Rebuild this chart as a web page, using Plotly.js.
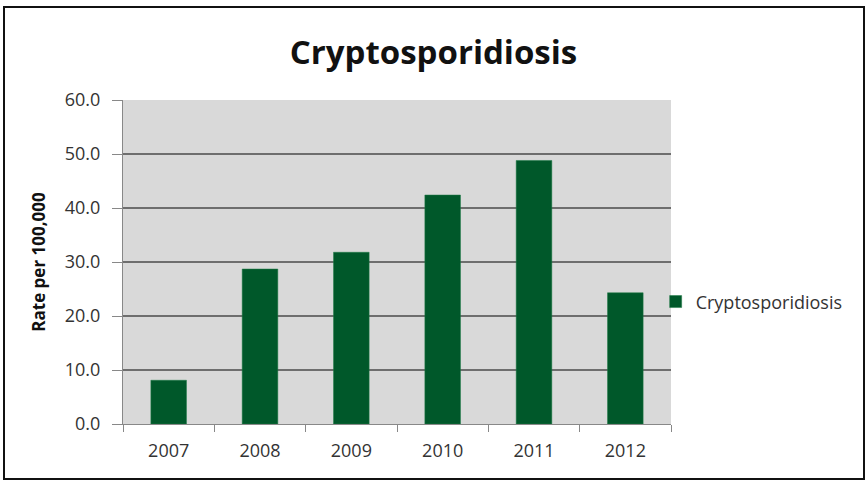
<!DOCTYPE html>
<html><head><meta charset="utf-8">
<script src="https://cdn.plot.ly/plotly-3.0.1.min.js"></script>
<style>
body{margin:0;padding:0;background:#fff;}
#wrap{position:relative;width:867px;height:482px;}
#chart{position:absolute;left:0;top:0;width:867px;height:482px;}
#frame{position:absolute;left:3px;top:6px;width:858px;height:470px;border:2px solid #111;pointer-events:none;}
</style></head>
<body><div id="wrap"><div id="chart"></div><div id="frame"></div></div>
<script>
const years = ["2007","2008","2009","2010","2011","2012"];
const rates = [8.1, 28.7, 31.8, 42.4, 48.8, 24.3];
const seriesName = "Cryptosporidiosis";
const yTicks = [0,10,20,30,40,50,60];

const font = "Open Sans, Carlito, Liberation Sans, sans-serif";
Plotly.newPlot('chart', [{
  type:'bar', x: years, y: rates, name: seriesName,
  marker:{color:'#00582a', line:{color:'#1d7a45', width:0.5}},
  showlegend:true
}], {
  width:867, height:482,
  margin:{l:123, r:196, t:100, b:58},
  paper_bgcolor:'#ffffff', plot_bgcolor:'#d9d9d9',
  bargap:0.61,
  title:{text:'<b>Cryptosporidiosis</b>', font:{family:font, size:33, color:'#111'},
         x:0.5, xref:'container', y:1-52/482, yref:'container', yanchor:'middle'},
  xaxis:{type:'category', showgrid:false, showline:true, linecolor:'#888', linewidth:1,
         ticks:'outside', tickson:'boundaries', ticklen:7, tickcolor:'#888', ticklabelstandoff:10,
         tickfont:{family:font, size:18, color:'#333'}, zeroline:false},
  yaxis:{range:[0,60], tickvals:yTicks, tickformat:'.1f', showgrid:true, gridcolor:'#6e6e6e', gridwidth:2,
         showline:true, linecolor:'#888', linewidth:1, ticks:'outside', ticklen:10, tickcolor:'#888', ticklabelstandoff:8,
         tickfont:{family:font, size:18, color:'#333'}, zeroline:false,
         title:{text:'<b>Rate per 100,000</b>', font:{family:font, size:17, color:'#111'}, standoff:14}},
  legend:{x:0.972, xanchor:'left', y:0.377, yanchor:'middle', font:{family:font, size:18, color:'#333'},
          itemwidth:30, bgcolor:'rgba(0,0,0,0)'}
}, {displayModeBar:false, staticPlot:true});
</script></body></html>
